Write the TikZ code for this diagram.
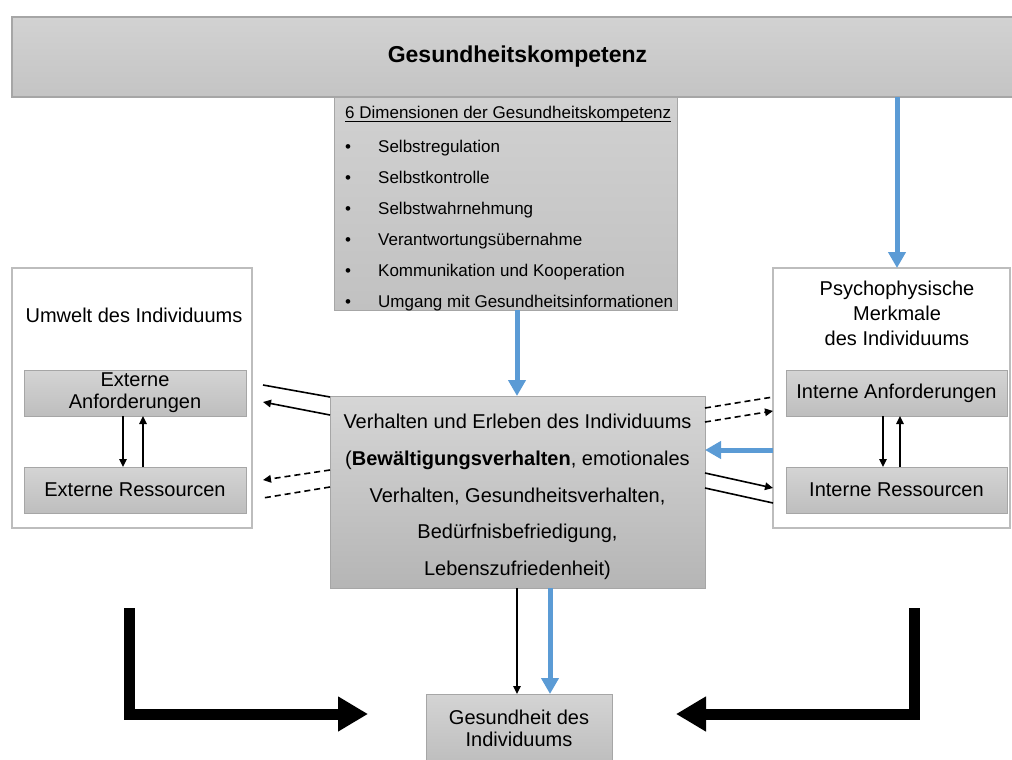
\documentclass[tikz,border=0pt]{standalone}
\usepackage{fontspec}
\setmainfont{Liberation Sans}
\usetikzlibrary{arrows.meta}
\definecolor{blu}{HTML}{5B9BD5}
\definecolor{gTop}{HTML}{D4D4D4}
\definecolor{gBot}{HTML}{BEBEBE}
\definecolor{mTop}{HTML}{D6D6D6}
\definecolor{mBot}{HTML}{B5B5B5}
\definecolor{dTop}{HTML}{D1D1D1}
\definecolor{dBot}{HTML}{C1C1C1}
\definecolor{bTop}{HTML}{D2D2D2}
\definecolor{bBot}{HTML}{C4C4C4}
\definecolor{bordergray}{HTML}{A6A6A6}
\definecolor{outergray}{HTML}{BDBDBD}
\begin{document}
\begin{tikzpicture}[x=1pt,y=-1pt,
  gbox/.style={draw=bordergray, line width=1pt, top color=gTop, bottom color=gBot,
    inner sep=0pt, outer sep=0pt, anchor=north west, align=center},
  obox/.style={draw=outergray, line width=1.2pt, fill=white, inner sep=0pt, outer sep=0pt, anchor=north west},
  txt/.style={font=\fontsize{20}{22}\selectfont, align=center, inner sep=0pt},
  dtxt/.style={font=\fontsize{17}{20}\selectfont, inner sep=0pt, anchor=base west},
  thinarrow/.style={line width=1.6pt, -{Triangle[length=8pt,width=7.5pt]}},
  thinline/.style={line width=1.6pt},
  dashline/.style={line width=1.6pt, dash pattern=on 6pt off 4pt},
  dasharrow/.style={line width=1.6pt, dash pattern=on 6pt off 4pt, -{Triangle[length=8pt,width=7.5pt]}},
  bluearrow/.style={blu, line width=5pt, -{Triangle[length=16pt,width=17pt]}},
  bigarrow/.style={black, line width=11pt, line join=miter, -{Triangle[length=30pt,width=33pt]}}
]
\useasboundingbox (0,0) rectangle (1012,760);

% dimensions box
\node[gbox, top color=dTop, bottom color=dBot, minimum width=343pt, minimum height=213pt] (dim) at (334,97) {};
% banner
\node[gbox, draw=bordergray, line width=1.5pt, top color=bTop, bottom color=bBot,
  minimum width=1006pt, minimum height=80pt] (ban) at (12,17) {};
\node[font=\fontsize{23}{26}\selectfont\bfseries, inner sep=0pt] (bantxt) at (517.5,57) {Gesundheitskompetenz};

% dimension texts
\node[dtxt] (dh) at (345,118) {6 Dimensionen der Gesundheitskompetenz};
\draw[line width=0.9pt] ([yshift=-3pt]dh.base west) -- ([yshift=-3pt]dh.base east);
\node[dtxt] (b1) at (345,152) {•};
\node[dtxt] (d1) at (378,152) {Selbstregulation};
\node[dtxt] (b2) at (345,183) {•};
\node[dtxt] (d2) at (378,183) {Selbstkontrolle};
\node[dtxt] (b3) at (345,214) {•};
\node[dtxt] (d3) at (378,214) {Selbstwahrnehmung};
\node[dtxt] (b4) at (345,245) {•};
\node[dtxt] (d4) at (378,245) {Verantwortungsübernahme};
\node[dtxt] (b5) at (345,276) {•};
\node[dtxt] (d5) at (378,276) {Kommunikation und Kooperation};
\node[dtxt] (b6) at (345,307) {•};
\node[dtxt] (d6) at (378,307) {Umgang mit Gesundheitsinformationen};

% outer boxes
\node[obox, minimum width=240pt, minimum height=260pt] (lbox) at (12,268) {};
\node[txt] (ltitle) at (134,315) {Umwelt des Individuums};
\node[obox, minimum width=237pt, minimum height=260pt] (rbox) at (773,268) {};
\node[txt, font=\fontsize{20}{25}\selectfont] (rtitle) at (897,313) {Psychophysische\\Merkmale\\des Individuums};

% inner boxes
\node[gbox, minimum width=222pt, minimum height=46pt, font=\fontsize{20}{22}\selectfont] (ea) at (24,370) {Externe\\Anforderungen};
\node[gbox, minimum width=222pt, minimum height=46pt, font=\fontsize{20}{22}\selectfont] (er) at (24,467) {Externe Ressourcen};
\node[gbox, minimum width=221pt, minimum height=46pt, font=\fontsize{20}{22}\selectfont] (ia) at (786,370) {Interne Anforderungen};
\node[gbox, minimum width=221pt, minimum height=46pt, font=\fontsize{20}{22}\selectfont] (ir) at (786,467) {Interne Ressourcen};

% middle box
\node[gbox, top color=mTop, bottom color=mBot, minimum width=375pt, minimum height=192pt] (mid) at (330,396) {};
\node[font=\fontsize{20}{36.75}\selectfont, align=center, inner sep=0pt] (midtxt) at (517.5,497)
  {Verhalten und Erleben des Individuums\\(\textbf{Bewältigungsverhalten}, emotionales\\Verhalten, Gesundheitsverhalten,\\Bedürfnisbefriedigung,\\Lebenszufriedenheit)};

% health box
\node[gbox, minimum width=186pt, minimum height=68pt, font=\fontsize{20}{22}\selectfont] (gh) at (426,694) {Gesundheit des\\Individuums};

% blue arrows
\draw[bluearrow] ([xshift=885pt]ban.south west) -- ([xshift=124pt]rbox.north west);
\draw[bluearrow] ([xshift=183pt]dim.south west) -- ([xshift=187pt]mid.north west);
\draw[bluearrow] ([yshift=-182pt]rbox.north west) -- ([yshift=-54pt]mid.north east);
\draw[bluearrow] ([xshift=220pt]mid.south west) -- ([xshift=124pt]gh.north west);
\draw[thinarrow] ([xshift=187pt]mid.south west) -- ([xshift=91pt]gh.north west);

% inner vertical arrows
\draw[thinarrow] ([xshift=99pt]ea.south west) -- ([xshift=99pt]er.north west);
\draw[thinarrow] ([xshift=119pt]er.north west) -- ([xshift=119pt]ea.south west);
\draw[thinarrow] ([xshift=97pt]ia.south west) -- ([xshift=97pt]ir.north west);
\draw[thinarrow] ([xshift=114pt]ir.north west) -- ([xshift=114pt]ia.south west);

% left connectors
\coordinate (l1) at ([xshift=11pt,yshift=-117pt]lbox.north east);
\coordinate (l2) at ([xshift=11pt,yshift=-134pt]lbox.north east);
\coordinate (l3) at ([xshift=11pt,yshift=-212pt]lbox.north east);
\coordinate (l4) at ([xshift=11pt,yshift=-230pt]lbox.north east);
\draw[thinline] (l1) -- ([yshift=-1pt]mid.north west);
\draw[thinarrow] ([yshift=-19pt]mid.north west) -- (l2);
\draw[dasharrow] ([yshift=-74pt]mid.north west) -- (l3);
\draw[dashline] ([yshift=-91pt]mid.north west) -- (l4);

% right connectors
\draw[dashline] ([yshift=-12pt]mid.north east) -- ([yshift=-129pt]rbox.north west);
\draw[dasharrow] ([yshift=-26pt]mid.north east) -- ([yshift=-143pt]rbox.north west);
\draw[thinarrow] ([yshift=-77pt]mid.north east) -- ([yshift=-220pt]rbox.north west);
\draw[thinline] ([yshift=-92pt]mid.north east) -- ([yshift=-235pt]rbox.north west);

% big L arrows
\coordinate (bl) at (129,608);
\coordinate (blt) at (368,714);
\coordinate (br) at (914,608);
\coordinate (brt) at (676,714);
\draw[bigarrow] (bl) |- (blt);
\draw[bigarrow] (br) |- (brt);
\end{tikzpicture}
\end{document}
